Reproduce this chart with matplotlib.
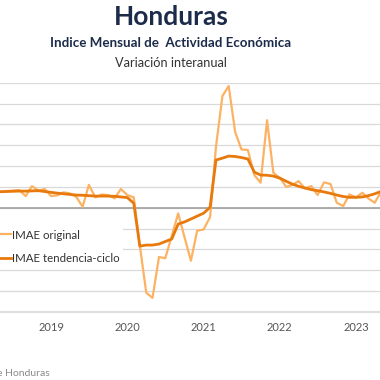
import pandas as pd
import matplotlib
matplotlib.use("Agg")
import matplotlib.pyplot as plt

plt.rcParams['font.family'] = ['Lato', 'DejaVu Sans']

# meses mayo 2018 - mayo 2023
months = pd.date_range("2018-05-01", periods=61, freq="MS")

# IMAE original, variacion interanual (%)
imae_original = [
    3.8, 4.0, 4.1, 4.25, 2.8, 5.2, 4.1, 4.5, 2.8, 3.0,
    3.7, 3.45, 2.65, 0.25, 5.5, 2.5, 3.2, 3.05, 2.25, 4.5,
    3.05, 2.5, -9.0, -20.4, -21.6, -11.8, -12.1, -6.8, -1.35, -7.0,
    -12.7, -5.5, -5.2, -2.2, 14.6, 26.8, 29.2, 18.2, 14.0, 13.85,
    7.85, 6.0, 21.0, 8.4, 7.2, 5.0, 5.45, 6.4, 4.65, 5.2,
    3.05, 6.1, 5.7, 1.2, 0.4, 3.2, 2.5, 3.6, 2.25, 1.2,
    3.85,
]

# IMAE tendencia-ciclo (%)
imae_tendencia = [
    3.85, 3.9, 3.95, 4.0, 4.0, 4.05, 4.1, 3.9, 3.7, 3.5,
    3.35, 3.2, 3.05, 3.0, 2.9, 2.8, 2.8, 2.8, 2.75, 2.6,
    2.45, 1.1, -9.2, -8.95, -8.95, -8.7, -8.1, -7.5, -3.9, -3.4,
    -2.7, -2.0, -1.3, 0.15, 11.45, 11.9, 12.4, 12.3, 12.05, 11.7,
    8.55, 7.85, 7.8, 7.6, 7.1, 6.35, 5.7, 5.15, 4.75, 4.35,
    4.1, 3.8, 3.45, 3.05, 2.7, 2.5, 2.5, 2.6, 2.9, 3.35,
    3.9,
]

year_ticks = pd.to_datetime(["2019-01-01", "2020-01-01", "2021-01-01",
                             "2022-01-01", "2023-01-01"])
year_labels = ["2019", "2020", "2021", "2022", "2023"]

fig = plt.figure(figsize=(3.8, 3.8), dpi=100)
ax = fig.add_axes([0, 68 / 380, 381 / 380, 229.3 / 380])

ax.plot(months, imae_original, color="#FDB263", lw=1.6, label="IMAE original", zorder=3)
ax.plot(months, imae_tendencia, color="#E8790C", lw=2.0, label="IMAE tendencia-ciclo", zorder=4)

ax.set_xlim(months[0], months[-1])
ax.set_ylim(-25, 30)
ax.set_yticks(range(-25, 31, 5))
ax.grid(axis="y", color="#d9d9d9", lw=0.9)
ax.axhline(0, color="#a6a6a6", lw=1.3, zorder=2)
ax.set_axisbelow(True)

for s in ["left", "right", "top"]:
    ax.spines[s].set_visible(False)
ax.spines["bottom"].set_color("#e0e0e0")
ax.spines["bottom"].set_linewidth(1.6)

ax.set_xticks(year_ticks)
ax.set_xticklabels(year_labels)
ax.tick_params(axis="x", length=0, pad=7, labelsize=8, labelcolor="#555555")
ax.tick_params(axis="y", length=0, labelleft=False)

leg = ax.legend(loc="upper left", bbox_to_anchor=(-0.045, 0.40), frameon=True,
                facecolor="white", edgecolor="none", framealpha=1,
                fontsize=8.3, handlelength=1.6, handletextpad=0.1,
                labelspacing=1.05, borderpad=0.3)
for t in leg.get_texts():
    t.set_color("#333333")

fig.text(171 / 380, 1 - 17 / 380, "Honduras", ha="center", va="center",
         fontsize=19, fontweight="bold", color="#1C2B4A")
fig.text(171 / 380, 1 - 43 / 380, "Indice Mensual de  Actividad Económica",
         ha="center", va="center", fontsize=9.6, fontweight="bold", color="#1C2B4A")
fig.text(171 / 380, 1 - 63 / 380, "Variación interanual", ha="center", va="center",
         fontsize=9.2, color="#333333")
fig.text(50 / 380, 1 - 373 / 380, "Fuente: Banco Central de Honduras", ha="right",
         va="center", fontsize=7.5, color="#8a8a8a")

fig.savefig("out.png", dpi=100)
